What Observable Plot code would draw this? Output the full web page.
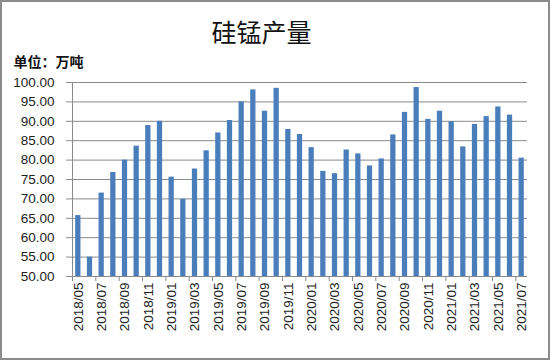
<!DOCTYPE html>
<html>
<head>
<meta charset="utf-8">
<script src="https://cdn.jsdelivr.net/npm/d3@7"></script>
<script src="https://cdn.jsdelivr.net/npm/@observablehq/plot@0.6"></script>
<style>
  html, body { margin: 0; padding: 0; background: #fff; }
  #chart svg { display: block; outline: 2px solid #8c8c8c; outline-offset: -2px; }
</style>
</head>
<body>
<div id="chart"></div>
<script>
const title = "硅锰产量";
const unit = "单位：万吨";
const months = [
  "2018/05","2018/06","2018/07","2018/08","2018/09","2018/10","2018/11","2018/12",
  "2019/01","2019/02","2019/03","2019/04","2019/05","2019/06","2019/07","2019/08","2019/09","2019/10","2019/11","2019/12",
  "2020/01","2020/02","2020/03","2020/04","2020/05","2020/06","2020/07","2020/08","2020/09","2020/10","2020/11","2020/12",
  "2021/01","2021/02","2021/03","2021/04","2021/05","2021/06","2021/07"
];
const output = [
  65.7, 55.0, 71.5, 76.8, 80.0, 83.6, 88.9, 90.0,
  75.6, 69.9, 77.7, 82.4, 87.0, 90.2, 95.0, 98.1, 92.6, 98.5, 87.9, 86.6,
  83.2, 77.1, 76.5, 82.6, 81.6, 78.5, 80.3, 86.5, 92.3, 98.7, 90.5, 92.6,
  89.9, 83.4, 89.2, 91.2, 93.7, 91.6, 80.5
];
const yTicks = [50, 55, 60, 65, 70, 75, 80, 85, 90, 95, 100];
const xLabels = months.filter((m, i) => i % 2 === 0);
const yMin = 50;

const data = months.map((m, i) => ({month: m, value: output[i]}));

const W = 550, H = 360, mL = 72, mR = 23, mT = 82, mB = 84;
const step = (W - mL - mR) / months.length;
const font = "'Liberation Sans', Arial, sans-serif";

const chart = Plot.plot({
  width: W,
  height: H,
  marginLeft: mL,
  marginRight: mR,
  marginTop: mT,
  marginBottom: mB,
  style: {fontFamily: font, fontSize: "13.5px", color: "#222", background: "#fff"},
  x: {domain: months, paddingInner: 0.55, paddingOuter: 0.275, round: false, axis: null},
  y: {domain: [50, 100], axis: null},
  marks: [
    Plot.gridY(yTicks, {stroke: "#8a8a8a", strokeOpacity: 1, strokeWidth: 1}),
    Plot.barY(data, {x: "month", y1: () => yMin, y2: "value", fill: "#4a7ebb"}),
    Plot.ruleX([months[0]], {x: d => d, y1: 50, y2: 100, dx: -step / 2, stroke: "#8a8a8a"}),
    Plot.axisY({ticks: yTicks, tickFormat: d3.format(".2f"), tickSize: 6, tickPadding: 12, stroke: "#8a8a8a", fill: "#222", label: null}),
    Plot.axisX({ticks: xLabels, tickSize: 5, text: null, dx: -step / 2, stroke: "#8a8a8a", label: null}),
    Plot.axisX({ticks: xLabels, tickSize: 0, tickPadding: 6, tickRotate: -90, fill: "#222", label: null}),
    Plot.text([title], {frameAnchor: "top-left", text: d => d, dx: 189, dy: -49, lineAnchor: "middle", textAnchor: "middle",
      fontSize: 25, fontFamily: "'Noto Sans CJK SC', sans-serif", fill: "#111"}),
    Plot.text([unit], {frameAnchor: "top-left", text: d => d, dx: -59, dy: -20, lineAnchor: "middle", textAnchor: "start",
      fontSize: 14, fontWeight: "bold", fontFamily: "'Noto Sans CJK SC', sans-serif", fill: "#111"})
  ]
});
document.getElementById("chart").append(chart);
</script>
</body>
</html>
